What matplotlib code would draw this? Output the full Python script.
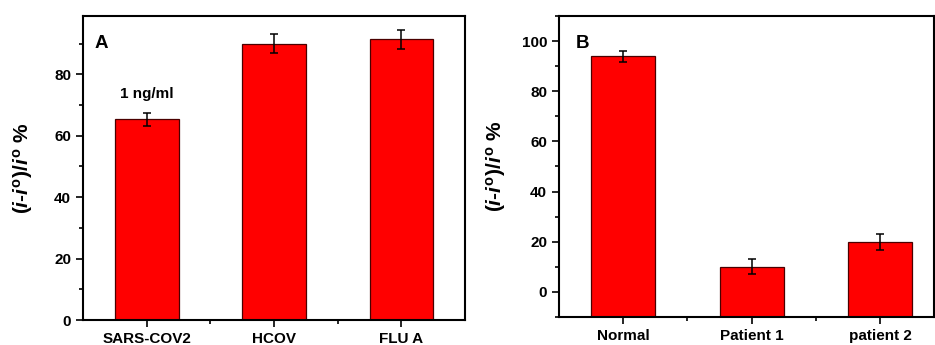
import matplotlib
matplotlib.use("Agg")
import matplotlib.pyplot as plt
from matplotlib.ticker import MultipleLocator, FixedLocator

plt.rcParams['font.family'] = 'Liberation Sans'
plt.rcParams['font.weight'] = 'bold'
plt.rcParams['mathtext.fontset'] = 'custom'
plt.rcParams['mathtext.rm'] = 'Liberation Sans:bold'
plt.rcParams['mathtext.it'] = 'Liberation Sans:italic:bold'
plt.rcParams['mathtext.bf'] = 'Liberation Sans:bold'

# panel A data
cat_a = ['SARS-COV2', 'HCOV', 'FLU A']
val_a = [65.3, 90.0, 91.5]
err_a = [2.1, 3.1, 3.1]

# panel B data
cat_b = ['Normal', 'Patient 1', 'patient 2']
val_b = [93.9, 10.1, 19.9]
err_b = [2.2, 3.1, 3.1]

ylab = r'$(\mathit{i}$-$\mathit{i}^{\mathrm{o}})/\mathit{i}^{\mathrm{o}}$ %'

W, H = 935, 345
fig = plt.figure(figsize=(W / 100, H / 100), dpi=100)

def px(l, t, r, b):
    return [l / W, 1 - b / H, (r - l) / W, (b - t) / H]

ax1 = fig.add_axes(px(83, 16, 465, 320))
ax2 = fig.add_axes(px(559, 16, 934, 317))

def style(ax, cats, vals, errs, base):
    x = range(len(cats))
    heights = [v - base for v in vals]
    ax.bar(x, heights, bottom=base, width=0.5, color='#ff0000', edgecolor='#4a0000',
           linewidth=0.9)
    ax.errorbar(list(x), vals, yerr=errs, fmt='none', capsize=3, elinewidth=1.1,
                capthick=1.1, ecolor='black')
    ax.set_xticks(list(x))
    ax.set_xticklabels(cats, fontsize=11, fontweight='bold')
    ax.xaxis.set_minor_locator(FixedLocator([0.5, 1.5]))
    ax.yaxis.set_major_locator(MultipleLocator(20))
    ax.yaxis.set_minor_locator(MultipleLocator(10))
    ax.tick_params(axis='both', which='major', direction='out', length=5, width=1.2,
                   labelsize=11)
    ax.tick_params(axis='both', which='minor', direction='out', length=3, width=1.2)
    for lab in ax.get_yticklabels():
        lab.set_fontweight('bold')
    for s in ax.spines.values():
        s.set_linewidth(1.5)
    ax.set_ylabel(ylab, fontsize=15, fontweight='bold')

style(ax1, cat_a, val_a, err_a, 0)
ax1.set_xlim(-0.5, 2.5)
ax1.set_ylim(0, 99)
ax1.text(0.03, 0.91, 'A', transform=ax1.transAxes, fontsize=13.5, fontweight='bold',
         va='center', ha='left')
ax1.text(0, 73.5, '1 ng/ml', fontsize=11, fontweight='bold', ha='center', va='center')
ax1.yaxis.set_label_coords(-0.125, 0.5)

style(ax2, cat_b, val_b, err_b, -10)
ax2.set_xlim(-0.5, 2.42)
ax2.set_ylim(-10, 110)
ax2.text(0.045, 0.91, 'B', transform=ax2.transAxes, fontsize=13.5, fontweight='bold',
         va='center', ha='left')
ax2.yaxis.set_label_coords(-0.135, 0.5)

fig.savefig('out.png', dpi=100)
